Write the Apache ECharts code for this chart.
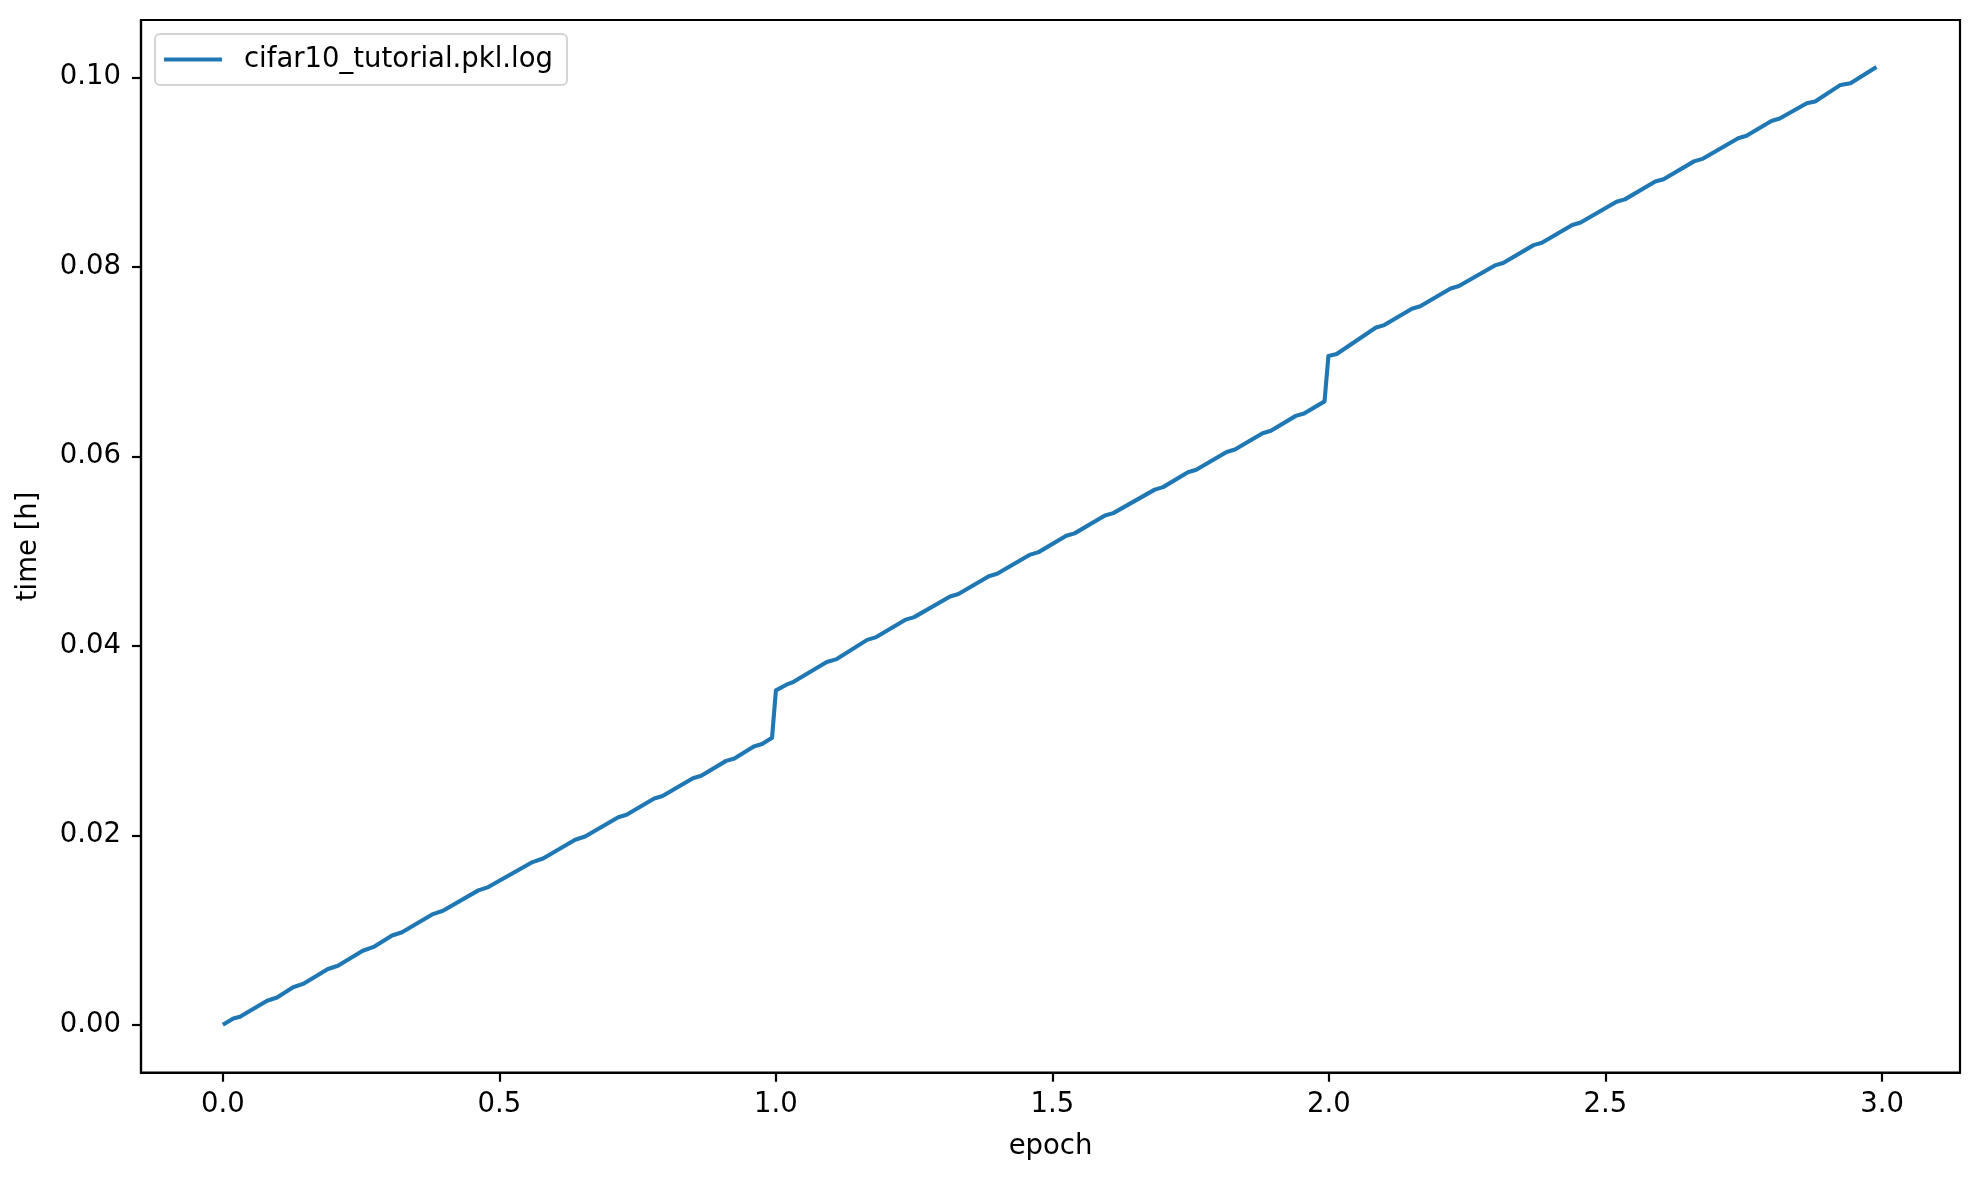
<!DOCTYPE html>
<html>
<head>
<meta charset="utf-8">
<script src="https://cdn.jsdelivr.net/npm/echarts@6/dist/echarts.min.js"></script>
<style>
html,body{margin:0;padding:0;background:#fff;}
#chart{width:1979px;height:1180px;}
</style>
</head>
<body>
<div id="chart"></div>
<script>
const seriesName = 'cifar10_tutorial.pkl.log';
const epochs = [
  0.000, 0.019, 0.031, 0.080, 0.098, 0.127, 0.145, 0.190, 0.208, 0.253, 0.274,
  0.306, 0.324, 0.380, 0.398, 0.462, 0.480, 0.560, 0.579, 0.637, 0.655,
  0.715, 0.730, 0.780, 0.795, 0.850, 0.865, 0.910, 0.925, 0.960, 0.975, 0.993,
  1.000, 1.019, 1.032, 1.092, 1.110, 1.165, 1.180, 1.235, 1.250, 1.315, 1.330,
  1.385, 1.400, 1.460, 1.475, 1.525, 1.540, 1.595, 1.610, 1.685, 1.700,
  1.745, 1.760, 1.815, 1.830, 1.880, 1.895, 1.940, 1.955, 1.992,
  1.999, 2.014, 2.085, 2.100, 2.150, 2.165, 2.220, 2.235, 2.300, 2.315,
  2.370, 2.385, 2.440, 2.455, 2.520, 2.535, 2.590, 2.605, 2.660, 2.675,
  2.740, 2.755, 2.800, 2.815, 2.864, 2.879, 2.925, 2.943, 2.990
];
const hours = [
  0.00000, 0.00068, 0.00085, 0.00254, 0.00289, 0.00397, 0.00432, 0.00590, 0.00624, 0.00782, 0.00826,
  0.00943, 0.00978, 0.01169, 0.01204, 0.01419, 0.01454, 0.01718, 0.01756, 0.01953, 0.01988,
  0.02191, 0.02217, 0.02389, 0.02415, 0.02603, 0.02628, 0.02786, 0.02811, 0.02938, 0.02964, 0.03030,
  0.03530, 0.03590, 0.03620, 0.03830, 0.03860, 0.04063, 0.04089, 0.04277, 0.04303, 0.04521, 0.04547,
  0.04734, 0.04760, 0.04963, 0.04989, 0.05161, 0.05187, 0.05375, 0.05401, 0.05649, 0.05675,
  0.05832, 0.05858, 0.06046, 0.06072, 0.06244, 0.06270, 0.06427, 0.06453, 0.06580,
  0.07060, 0.07080, 0.07359, 0.07385, 0.07558, 0.07583, 0.07771, 0.07797, 0.08015, 0.08041,
  0.08229, 0.08254, 0.08442, 0.08468, 0.08686, 0.08712, 0.08900, 0.08925, 0.09113, 0.09139,
  0.09357, 0.09383, 0.09540, 0.09566, 0.09727, 0.09744, 0.09920, 0.09938, 0.10110
];
const xTicks = [0.0, 0.5, 1.0, 1.5, 2.0, 2.5, 3.0];
const yTicks = [0.00, 0.02, 0.04, 0.06, 0.08, 0.10];
const xLabel = 'epoch';
const yLabel = 'time [h]';

const FONT = 'DejaVu Sans';
const FS = 27.5;
const chart = echarts.init(document.getElementById('chart'), null, {renderer: 'canvas'});
chart.setOption({
  animation: false,
  backgroundColor: '#ffffff',
  grid: {
    left: 141, top: 20, right: 19, bottom: 107.3,
    show: true, borderColor: '#000', borderWidth: 2.2, backgroundColor: 'transparent'
  },
  legend: {
    left: 155, top: 34,
    padding: [10, 14, 10, 9],
    borderColor: '#d4d4d4', borderWidth: 2, borderRadius: 5,
    backgroundColor: '#ffffff',
    icon: 'rect', itemWidth: 58, itemHeight: 4,
    textStyle: {fontFamily: FONT, fontSize: FS, color: '#000', padding: [0, 0, 0, 17], lineHeight: 31},
    data: [seriesName]
  },
  xAxis: {
    type: 'value', min: -0.148, max: 3.141,
    name: xLabel, nameLocation: 'middle', nameGap: 60,
    nameTextStyle: {fontFamily: FONT, fontSize: FS, color: '#000'},
    axisLine: {show: true, onZero: false, lineStyle: {color: '#000', width: 2.2}},
    axisTick: {show: true, length: 9, lineStyle: {color: '#000', width: 2.2}, customValues: xTicks},
    axisLabel: {fontFamily: FONT, fontSize: FS, color: '#000', margin: 18, customValues: xTicks,
      formatter: v => Number(v).toFixed(1)},
    splitLine: {show: false}
  },
  yAxis: {
    type: 'value', min: -0.00505, max: 0.10605,
    name: yLabel, nameLocation: 'middle', nameGap: 98,
    nameTextStyle: {fontFamily: FONT, fontSize: FS, color: '#000'},
    axisLine: {show: true, onZero: false, lineStyle: {color: '#000', width: 2.2}},
    axisTick: {show: true, length: 9, lineStyle: {color: '#000', width: 2.2}, customValues: yTicks},
    axisLabel: {fontFamily: FONT, fontSize: FS, color: '#000', margin: 20, customValues: yTicks,
      padding: [5, 0, 0, 0],
      formatter: v => Number(v).toFixed(2)},
    splitLine: {show: false}
  },
  series: [{
    name: seriesName,
    type: 'line',
    data: epochs.map((e, i) => [e, hours[i]]),
    showSymbol: false,
    symbol: 'none',
    lineStyle: {color: '#1f77b4', width: 4.1, join: 'round', cap: 'butt'},
    itemStyle: {color: '#1f77b4'}
  }]
});
</script>
</body>
</html>
